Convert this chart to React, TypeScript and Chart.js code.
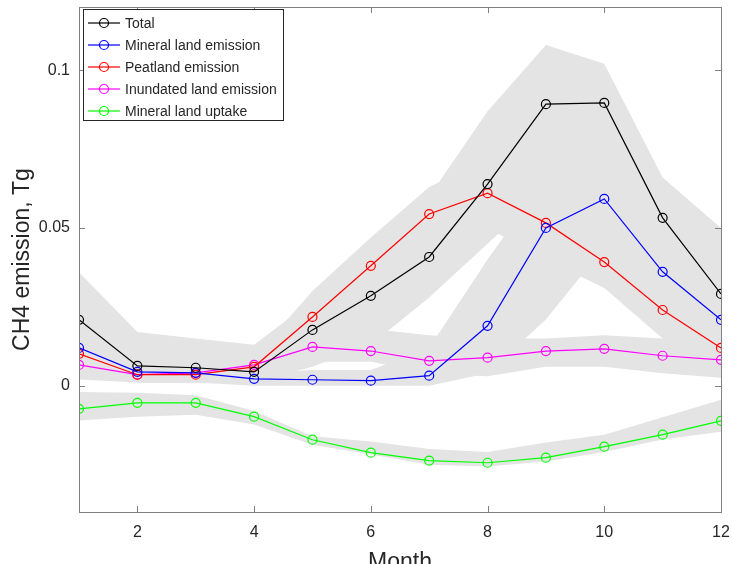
import React, { useEffect, useRef } from 'react';
import { Chart, registerables } from 'chart.js';

Chart.register(...registerables);

// ---------- data ----------
const months = [1, 2, 3, 4, 5, 6, 7, 8, 9, 10, 11, 12];

const totalValues = [0.0209, 0.0063, 0.0057, 0.0044, 0.0177, 0.0285, 0.0408, 0.0639, 0.0892, 0.0896, 0.0532, 0.0291];
const mineralValues = [0.0120, 0.0044, 0.0041, 0.0022, 0.0019, 0.0016, 0.0032, 0.0190, 0.0500, 0.0592, 0.0361, 0.0209];
const peatValues = [0.0101, 0.0035, 0.0035, 0.0060, 0.0218, 0.0380, 0.0544, 0.0610, 0.0516, 0.0392, 0.0240, 0.0120];
const inundatedValues = [0.0066, 0.0035, 0.0041, 0.0066, 0.0123, 0.0110, 0.0079, 0.0089, 0.0110, 0.0117, 0.0095, 0.0082];
const uptakeValues = [-0.0073, -0.0054, -0.0054, -0.0098, -0.0171, -0.0212, -0.0237, -0.0244, -0.0228, -0.0193, -0.0155, -0.0111];

// uncertainty ranges (grey bands)
const totalUpper = [0.036, 0.017, 0.015, 0.013, 0.027, 0.044, 0.060, 0.087, 0.108, 0.102, 0.066, 0.050];
const totalLower = [0.006, 0.002, 0.002, 0.001, 0.006, 0.013, 0.028, 0.045, 0.062, 0.071, 0.040, 0.018];
const mineralUpper = [0.016, 0.007, 0.006, 0.004, 0.005, 0.005, 0.012, 0.040, 0.066, 0.073, 0.050, 0.032];
const mineralLower = [0.006, 0.001, 0.001, 0.000, 0.000, 0.000, 0.000, 0.004, 0.021, 0.044, 0.024, 0.012];
const peatUpper = [0.014, 0.006, 0.006, 0.009, 0.030, 0.047, 0.063, 0.072, 0.065, 0.046, 0.032, 0.020];
const peatLower = [0.006, 0.001, 0.001, 0.003, 0.013, 0.028, 0.043, 0.050, 0.040, 0.031, 0.015, 0.005];
const inundatedUpper = [0.010, 0.006, 0.006, 0.010, 0.017, 0.018, 0.016, 0.015, 0.015, 0.016, 0.015, 0.014];
const inundatedLower = [0.002, 0.001, 0.001, 0.002, 0.0076, 0.0076, 0.004, 0.003, 0.006, 0.006, 0.004, 0.0025];
const uptakeUpper = [-0.002, -0.0022, -0.003, -0.008, -0.016, -0.0177, -0.020, -0.021, -0.018, -0.0155, -0.010, -0.0044];
const uptakeLower = [-0.011, -0.0098, -0.0092, -0.0123, -0.0187, -0.0218, -0.025, -0.0256, -0.024, -0.021, -0.017, -0.0146];

const seriesLabels = ['Total', 'Mineral land emission', 'Peatland emission', 'Inundated land emission', 'Mineral land uptake'];
const seriesColors = ['#000000', '#0000ff', '#ff0000', '#ff00ff', '#00ff00'];

const xTickValues = [2, 4, 6, 8, 10, 12];
const yTickValues = [0, 0.05, 0.1];
const xTitle = 'Month';
const yTitle = 'CH4 emission, Tg';

const BAND = '#e4e4e4';
const AXIS = '#808080';
const TEXT = '#262626';
const FONT = '"Liberation Sans", Arial, Helvetica, sans-serif';

const pts = (vals: number[]) => months.map((m, i) => ({ x: m, y: vals[i] }));

const framePlugin = {
  id: 'matlabFrame',
  afterDraw(chart: any) {
    const { ctx, chartArea: a, scales } = chart;
    const xs = scales.x;
    const ys = scales.y;
    ctx.save();
    ctx.strokeStyle = AXIS;
    ctx.lineWidth = 1;
    ctx.strokeRect(Math.round(a.left) + 0.5, Math.round(a.top) + 0.5, Math.round(a.right - a.left), Math.round(a.bottom - a.top));
    const tl = 6;
    ctx.beginPath();
    xTickValues.forEach((v) => {
      const px = Math.round(xs.getPixelForValue(v)) + 0.5;
      ctx.moveTo(px, a.bottom);
      ctx.lineTo(px, a.bottom - tl);
      ctx.moveTo(px, a.top);
      ctx.lineTo(px, a.top + tl);
    });
    yTickValues.forEach((v) => {
      const py = Math.round(ys.getPixelForValue(v)) + 0.5;
      ctx.moveTo(a.left, py);
      ctx.lineTo(a.left + tl, py);
      ctx.moveTo(a.right, py);
      ctx.lineTo(a.right - tl, py);
    });
    ctx.stroke();

    // axis titles
    ctx.fillStyle = TEXT;
    ctx.font = `23px ${FONT}`;
    ctx.textAlign = 'center';
    ctx.textBaseline = 'alphabetic';
    ctx.fillText(xTitle, (a.left + a.right) / 2, 569);
    ctx.save();
    ctx.translate(29, (a.top + a.bottom) / 2);
    ctx.rotate(-Math.PI / 2);
    ctx.fillText(yTitle, 0, 0);
    ctx.restore();

    // legend
    const lx = 83, ly = 9, lw = 200, lh = 111;
    ctx.fillStyle = '#ffffff';
    ctx.fillRect(lx, ly, lw, lh);
    ctx.strokeStyle = '#262626';
    ctx.lineWidth = 1;
    ctx.strokeRect(lx + 0.5, ly + 0.5, lw, lh);
    ctx.font = `14px ${FONT}`;
    ctx.textAlign = 'left';
    ctx.textBaseline = 'middle';
    seriesLabels.forEach((lab, i) => {
      const yy = 23 + i * 22;
      ctx.strokeStyle = seriesColors[i];
      ctx.lineWidth = 1.2;
      ctx.beginPath();
      ctx.moveTo(88, yy);
      ctx.lineTo(120, yy);
      ctx.stroke();
      ctx.beginPath();
      ctx.arc(104, yy, 4.5, 0, Math.PI * 2);
      ctx.stroke();
      ctx.fillStyle = TEXT;
      ctx.fillText(lab, 125, yy + 1);
    });
    ctx.restore();
  },
};

export default function App() {
  const ref = useRef<HTMLCanvasElement | null>(null);
  useEffect(() => {
    if (!ref.current) return;
    const seriesValues = [totalValues, mineralValues, peatValues, inundatedValues, uptakeValues];
    const bands = [
      [totalUpper, totalLower],
      [mineralUpper, mineralLower],
      [peatUpper, peatLower],
      [inundatedUpper, inundatedLower],
      [uptakeUpper, uptakeLower],
    ];
    const lineSets = seriesValues.map((vals, i) => ({
      label: seriesLabels[i],
      data: pts(vals),
      borderColor: seriesColors[i],
      backgroundColor: 'rgba(0,0,0,0)',
      borderWidth: 1.2,
      pointRadius: 4.5,
      pointBorderWidth: 1.2,
      pointBorderColor: seriesColors[i],
      pointBackgroundColor: 'rgba(0,0,0,0)',
      fill: false,
      tension: 0,
    }));
    const bandSets: any[] = [];
    bands.forEach(([up, lo]) => {
      bandSets.push({
        label: 'band-up',
        data: pts(up),
        borderWidth: 0,
        borderColor: 'rgba(0,0,0,0)',
        backgroundColor: BAND,
        pointRadius: 0,
        fill: '+1',
        tension: 0,
      });
      bandSets.push({
        label: 'band-lo',
        data: pts(lo),
        borderWidth: 0,
        borderColor: 'rgba(0,0,0,0)',
        backgroundColor: BAND,
        pointRadius: 0,
        fill: false,
        tension: 0,
      });
    });

    const chart = new Chart(ref.current, {
      type: 'line',
      data: { datasets: [...lineSets, ...bandSets] as any },
      options: {
        responsive: false,
        animation: false,
        events: [],
        layout: { autoPadding: false, padding: { left: 0, right: 11, top: 7, bottom: 0 } } as any,
        plugins: {
          legend: { display: false },
          tooltip: { enabled: false },
          filler: { drawTime: 'beforeDatasetsDraw' } as any,
        },
        scales: {
          x: {
            type: 'linear',
            min: 1,
            max: 12,
            grid: { display: false, drawTicks: false },
            border: { display: false },
            afterBuildTicks: (s: any) => {
              s.ticks = xTickValues.map((v) => ({ value: v }));
            },
            afterFit: (s: any) => {
              s.height = 52;
              s.paddingLeft = 0;
              s.paddingRight = 0;
              s.paddingTop = 0;
              s.paddingBottom = 0;
            },
            ticks: {
              color: TEXT,
              font: { size: 16, family: FONT },
              padding: 11,
              maxRotation: 0,
              autoSkip: false,
              callback: (v: any) => String(v),
            },
          },
          y: {
            type: 'linear',
            min: -0.04,
            max: 0.12,
            grid: { display: false, drawTicks: false },
            border: { display: false },
            afterBuildTicks: (s: any) => {
              s.ticks = yTickValues.map((v) => ({ value: v }));
            },
            afterFit: (s: any) => {
              s.width = 79;
              s.paddingLeft = 0;
              s.paddingRight = 0;
              s.paddingTop = 0;
              s.paddingBottom = 0;
            },
            ticks: {
              color: TEXT,
              font: { size: 16, family: FONT },
              padding: 9,
              autoSkip: false,
              callback: (v: any) => String(v),
            },
          },
        },
      },
      plugins: [framePlugin],
    });
    return () => chart.destroy();
  }, []);

  return (
    <div style={{ position: 'fixed', left: 0, top: 0, width: 732, height: 564, background: '#fff' }}>
      <canvas ref={ref} width={732} height={564} style={{ display: 'block', width: 732, height: 564 }} />
    </div>
  );
}
